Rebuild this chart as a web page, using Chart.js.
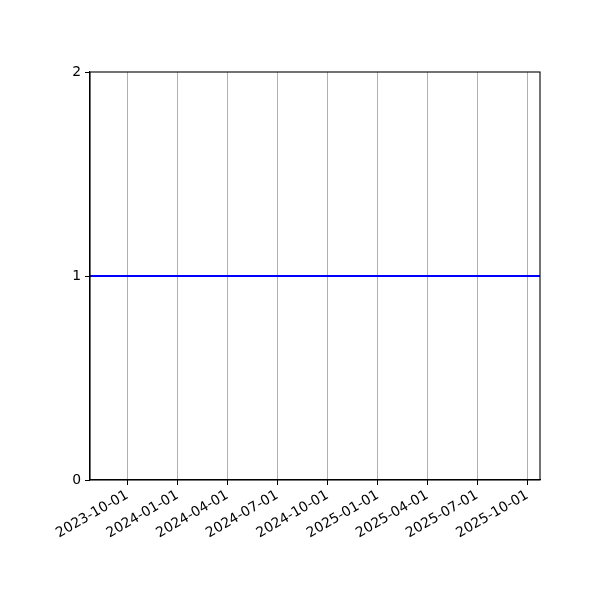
<!DOCTYPE html>
<html>
<head>
<meta charset="utf-8">
<script src="https://cdn.jsdelivr.net/npm/chart.js@4"></script>
<style>
    body { margin: 0; background: #fff; }
    canvas { display: block; }
</style>
</head>
<body>
<canvas id="lineChart" width="600" height="600"></canvas>
<script>
// -------------------------------
// Data
// -------------------------------
const dates = ["2023-07-25", "2025-10-24"];
const values = [1, 1];
const tickDates = ["2023-10-01", "2024-01-01", "2024-04-01", "2024-07-01", "2024-10-01",
    "2025-01-01", "2025-04-01", "2025-07-01", "2025-10-01"];
const yTicks = [0, 1, 2];

function toMs(s) {
    const p = s.split("-").map(Number);
    return Date.UTC(p[0], p[1] - 1, p[2]);
}

function fmtDate(ms) {
    const d = new Date(ms);
    const mm = String(d.getUTCMonth() + 1).padStart(2, "0");
    const dd = String(d.getUTCDate()).padStart(2, "0");
    return d.getUTCFullYear() + "-" + mm + "-" + dd;
}

// ramme rundt plottet (matplotlib-spines)
const boxPlugin = {
    id: "box",
    afterDraw(chart) {
        const a = chart.chartArea;
        const ctx = chart.ctx;
        ctx.save();
        ctx.strokeStyle = "#000";
        ctx.lineWidth = 1.1;
        ctx.strokeRect(a.left, a.top, a.right - a.left, a.bottom - a.top);
        ctx.restore();
    }
};

Chart.defaults.font.family = "'DejaVu Sans', sans-serif";
Chart.defaults.font.size = 13.9;
Chart.defaults.color = "#000";

const ctx = document.getElementById("lineChart").getContext("2d");
new Chart(ctx, {
    type: "line",
    data: {
        datasets: [{
            data: dates.map((d, i) => ({ x: toMs(d), y: values[i] })),
            borderColor: "#0000ff",
            borderWidth: 2,
            pointRadius: 0,
            fill: false
        }]
    },
    options: {
        responsive: false,
        animation: false,
        devicePixelRatio: 1,
        layout: { padding: { left: 0, right: 60, top: 72, bottom: 0 } },
        plugins: { legend: { display: false }, tooltip: { enabled: false } },
        scales: {
            x: {
                type: "linear",
                min: toMs(dates[0]),
                max: toMs(dates[dates.length - 1]),
                afterBuildTicks(scale) {
                    scale.ticks = tickDates.map(d => ({ value: toMs(d) }));
                },
                afterFit(scale) { scale.height = 120; },
                ticks: {
                    autoSkip: false,
                    minRotation: 30,
                    maxRotation: 30,
                    padding: 2,
                    callback: v => fmtDate(v)
                },
                grid: {
                    color: "#b0b0b0",
                    lineWidth: 1,
                    tickColor: "#000",
                    tickLength: 5
                },
                border: { color: "#000", width: 1.1 }
            },
            y: {
                min: 0,
                max: 2,
                afterBuildTicks(scale) {
                    scale.ticks = yTicks.map(v => ({ value: v }));
                },
                afterFit(scale) { scale.width = 90; },
                ticks: { padding: 4 },
                grid: {
                    drawOnChartArea: false,
                    tickColor: "#000",
                    tickLength: 5
                },
                border: { color: "#000", width: 1.1 }
            }
        }
    },
    plugins: [boxPlugin]
});
</script>
</body>
</html>
